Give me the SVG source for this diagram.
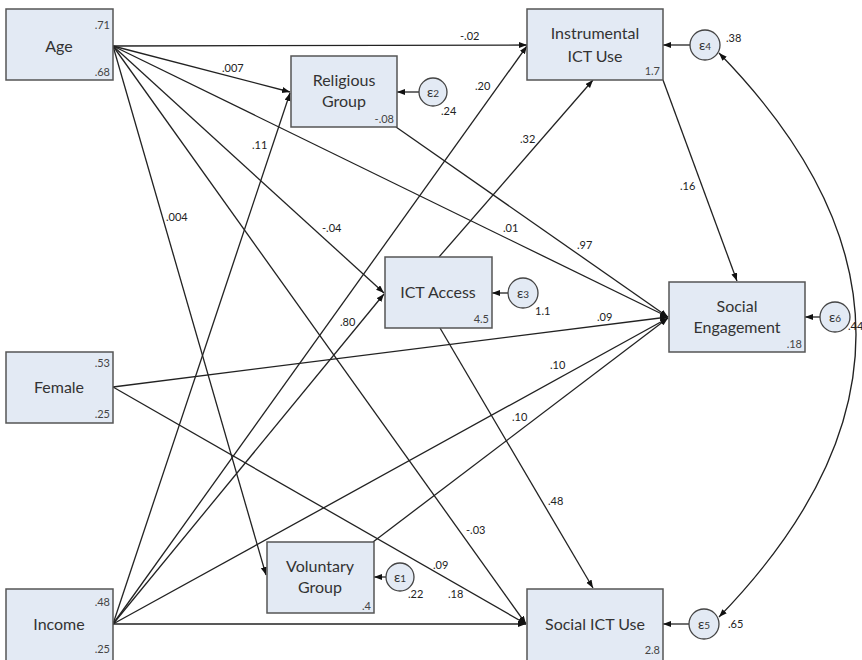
<svg xmlns="http://www.w3.org/2000/svg" width="862" height="660" viewBox="0 0 862 660">
<style>
  .box{fill:#e3eaf4;stroke:#555;stroke-width:1.5}
  .lbl{font-family:Lato,"Open Sans","Liberation Sans",sans-serif;font-size:16px;fill:#333;text-anchor:middle}
  .val{font-family:Lato,"Open Sans","Liberation Sans",sans-serif;font-size:11px;fill:#444;text-anchor:end}
  .err{fill:#e3eaf4;stroke:#444;stroke-width:1.3}
  .eps{font-family:Lato,"Open Sans","Liberation Sans",sans-serif;font-size:14px;fill:#333;text-anchor:middle}
  .ev{font-family:Lato,"Open Sans","Liberation Sans",sans-serif;font-size:11px;fill:#222}
  .e{stroke:#222;stroke-width:1.3;fill:none;marker-end:url(#ah)}
  .el{font-family:Lato,"Open Sans","Liberation Sans",sans-serif;font-size:11px;fill:#222}
</style>
<defs>
  <marker id="ah" markerUnits="userSpaceOnUse" markerWidth="9" markerHeight="7" refX="8" refY="3" orient="auto-start-reverse">
    <path d="M0,0 L8,3 L0,6 z" fill="#111"/>
  </marker>
</defs>
<rect width="862" height="660" fill="#fff"/>

<g id="connectors">
  <!-- Age -->
  <line class="e" x1="113" y1="46" x2="527" y2="45"/>
  <line class="e" x1="113" y1="46" x2="290" y2="92"/>
  <line class="e" x1="113" y1="46" x2="668" y2="317"/>
  <line class="e" x1="113" y1="46" x2="384" y2="293"/>
  <line class="e" x1="113" y1="46" x2="266" y2="575"/>
  <line class="e" x1="113" y1="46" x2="526" y2="624"/>
  <!-- Female -->
  <line class="e" x1="113" y1="387" x2="668" y2="317"/>
  <line class="e" x1="113" y1="387" x2="526" y2="624"/>
  <!-- Income -->
  <line class="e" x1="113" y1="624" x2="290" y2="93"/>
  <line class="e" x1="113" y1="624" x2="527" y2="46"/>
  <line class="e" x1="113" y1="624" x2="384" y2="294"/>
  <line class="e" x1="113" y1="624" x2="668" y2="318"/>
  <line class="e" x1="113" y1="624" x2="526" y2="624"/>
  <!-- mediators -->
  <line class="e" x1="396" y1="127" x2="668" y2="317"/>
  <line class="e" x1="373" y1="542" x2="668" y2="318"/>
  <line class="e" x1="439" y1="257" x2="593" y2="80"/>
  <line class="e" x1="440" y1="328" x2="593" y2="588"/>
  <line class="e" x1="663" y1="80" x2="737" y2="281"/>
  <!-- errors -->
  <line class="e" x1="419" y1="92" x2="397" y2="92"/>
  <line class="e" x1="690" y1="45" x2="663" y2="45"/>
  <line class="e" x1="508" y1="293" x2="492" y2="293"/>
  <line class="e" x1="820" y1="317" x2="805" y2="317"/>
  <line class="e" x1="386" y1="577" x2="374" y2="577"/>
  <line class="e" x1="689" y1="624" x2="663" y2="624"/>
  <path class="e" style="marker-start:url(#ah)" d="M719,53 Q993,334 719,617"/>
  <!-- labels -->
  <text class="el" x="460" y="40">-.02</text>
  <text class="el" x="222" y="72">.007</text>
  <text class="el" x="475" y="90">.20</text>
  <text class="el" x="252" y="149">.11</text>
  <text class="el" x="166" y="221">.004</text>
  <text class="el" x="322" y="232">-.04</text>
  <text class="el" x="503" y="232">.01</text>
  <text class="el" x="520" y="143">.32</text>
  <text class="el" x="577" y="249">.97</text>
  <text class="el" x="680" y="190">.16</text>
  <text class="el" x="597" y="321">.09</text>
  <text class="el" x="340" y="326">.80</text>
  <text class="el" x="550" y="369">.10</text>
  <text class="el" x="512" y="421">.10</text>
  <text class="el" x="548" y="505">.48</text>
  <text class="el" x="466" y="534">-.03</text>
  <text class="el" x="433" y="569">.09</text>
  <text class="el" x="448" y="598">.18</text>
</g>

<g id="age">
  <rect class="box" x="6" y="9" width="107" height="71"/>
  <text class="lbl" x="59" y="52">Age</text>
  <text class="val" x="110" y="29">.71</text>
  <text class="val" x="110" y="76">.68</text>
</g>
<g id="female">
  <rect class="box" x="6" y="352" width="107" height="71"/>
  <text class="lbl" x="59" y="393">Female</text>
  <text class="val" x="110" y="367">.53</text>
  <text class="val" x="110" y="418">.25</text>
</g>
<g id="income">
  <rect class="box" x="6" y="589" width="107" height="72"/>
  <text class="lbl" x="59" y="630">Income</text>
  <text class="val" x="110" y="606">.48</text>
  <text class="val" x="110" y="653">.25</text>
</g>
<g id="religious">
  <rect class="box" x="291" y="56" width="106" height="71"/>
  <text class="lbl" x="344" y="86">Religious</text>
  <text class="lbl" x="344" y="107">Group</text>
  <text class="val" x="394" y="123">-.08</text>
</g>
<g id="voluntary">
  <rect class="box" x="267" y="542" width="107" height="71"/>
  <text class="lbl" x="320" y="572">Voluntary</text>
  <text class="lbl" x="320" y="593">Group</text>
  <text class="val" x="371" y="610">.4</text>
</g>
<g id="ictaccess">
  <rect class="box" x="385" y="257" width="107" height="71"/>
  <text class="lbl" x="438" y="298">ICT Access</text>
  <text class="val" x="489" y="323">4.5</text>
</g>
<g id="instrumental">
  <rect class="box" x="527" y="9" width="136" height="71"/>
  <text class="lbl" x="595" y="39">Instrumental</text>
  <text class="lbl" x="595" y="62">ICT Use</text>
  <text class="val" x="660" y="75">1.7</text>
</g>
<g id="engagement">
  <rect class="box" x="669" y="282" width="136" height="70"/>
  <text class="lbl" x="737" y="312">Social</text>
  <text class="lbl" x="737" y="333">Engagement</text>
  <text class="val" x="802" y="348">.18</text>
</g>
<g id="socialict">
  <rect class="box" x="527" y="589" width="136" height="72"/>
  <text class="lbl" x="595" y="630">Social ICT Use</text>
  <text class="val" x="660" y="654">2.8</text>
</g>

<g id="e1">
  <circle class="err" cx="400" cy="577" r="14"/>
  <text class="eps" x="400" y="582">ε<tspan font-size="10">1</tspan></text>
  <text class="ev" x="408" y="598">.22</text>
</g>
<g id="e2">
  <circle class="err" cx="433" cy="92" r="14"/>
  <text class="eps" x="433" y="97">ε<tspan font-size="10">2</tspan></text>
  <text class="ev" x="441" y="115">.24</text>
</g>
<g id="e3">
  <circle class="err" cx="523" cy="293" r="15"/>
  <text class="eps" x="523" y="298">ε<tspan font-size="10">3</tspan></text>
  <text class="ev" x="535" y="315">1.1</text>
</g>
<g id="e4">
  <circle class="err" cx="705" cy="45" r="15"/>
  <text class="eps" x="705" y="50">ε<tspan font-size="10">4</tspan></text>
  <text class="ev" x="726" y="42">.38</text>
</g>
<g id="e5">
  <circle class="err" cx="704" cy="624" r="15"/>
  <text class="eps" x="704" y="629">ε<tspan font-size="10">5</tspan></text>
  <text class="ev" x="728" y="628">.65</text>
</g>
<g id="e6">
  <circle class="err" cx="835" cy="317" r="15"/>
  <text class="eps" x="835" y="322">ε<tspan font-size="10">6</tspan></text>
  <text class="ev" x="848" y="330">.44</text>
</g>
</svg>
